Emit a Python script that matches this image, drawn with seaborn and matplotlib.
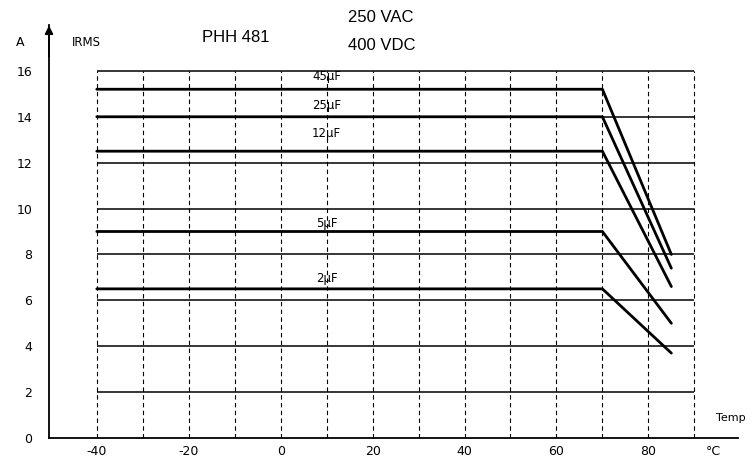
import matplotlib
matplotlib.use("Agg")
import matplotlib.pyplot as plt
import numpy as np
import pandas as pd
import seaborn as sns

# Derating of RMS current vs. temperature, PHH 481 series
temps = [-40, 70, 85]
capacitances = ["45µF", "25µF", "12µF", "5µF", "2µF"]
irms = {
    "45µF": [15.2, 15.2, 8.0],
    "25µF": [14.0, 14.0, 7.4],
    "12µF": [12.5, 12.5, 6.6],
    "5µF": [9.0, 9.0, 5.0],
    "2µF": [6.5, 6.5, 3.7],
}
label_y = {"45µF": 15.75, "25µF": 14.5, "12µF": 13.25, "5µF": 9.35, "2µF": 6.95}
label_x = 10

x_ticks = [-40, -20, 0, 20, 40, 60, 80]
y_ticks = [0, 2, 4, 6, 8, 10, 12, 14, 16]
grid_temps = list(range(-40, 100, 10))
grid_currents = [2, 4, 6, 8, 10, 12, 14, 16]

rows = []
for cap in capacitances:
    for t, i in zip(temps, irms[cap]):
        rows.append({"temp": t, "irms": i, "cap": cap})
df = pd.DataFrame(rows)

sns.set_theme(style="white")
plt.rcParams["font.family"] = ["DejaVu Sans"]
plt.rcParams["text.color"] = "black"

W, H = 753, 461
fig = plt.figure(figsize=(W / 100, H / 100), dpi=100)
ax = fig.add_axes([49 / W, (H - 438) / H, 689 / W, 413 / H])
ax.set_xlim(-50.4, 99.5)
ax.set_ylim(0, 18)

# Grid box: horizontal rules and dashed verticals from -40 to 90 °C
for c in grid_currents:
    ax.plot([-40, 90], [c, c], color="black", lw=1.1, zorder=2, solid_capstyle="butt")
for t in grid_temps:
    ax.plot([t, t], [0, 16], color="black", lw=0.8, dashes=(4, 3), zorder=2)

sns.lineplot(data=df, x="temp", y="irms", hue="cap", hue_order=capacitances,
             palette=["black"] * len(capacitances), linewidth=2.0,
             legend=False, ax=ax, zorder=3)

for cap in capacitances:
    ax.text(label_x, label_y[cap], cap, ha="center", va="center",
            fontsize=8.5, color="black", zorder=4)

sns.despine(ax=ax, top=True, right=True)
for side in ("left", "bottom"):
    ax.spines[side].set_color("black")
    ax.spines[side].set_linewidth(1.3)

ax.set_xticks(x_ticks)
ax.set_xticklabels([str(v) for v in x_ticks])
ax.set_yticks(y_ticks)
ax.set_yticklabels([str(v) for v in y_ticks])
ax.tick_params(axis="x", length=0, pad=5, labelsize=9, colors="black")
ax.tick_params(axis="y", length=6, direction="inout", width=1.2, pad=9,
               labelsize=9, colors="black")
ax.set_xlabel("")
ax.set_ylabel("")

# Arrow head on the current axis
ax.annotate("", xy=(-50.4, 18.1), xytext=(-50.4, 16.5),
            arrowprops=dict(arrowstyle="-|>", color="black", lw=1.3,
                            mutation_scale=12),
            annotation_clip=False)


def ftext(px, py, s, **kw):
    fig.text(px / W, 1 - py / H, s, color="black", **kw)


ftext(20, 42, "A", ha="center", va="center", fontsize=9)
ftext(72, 42, "IRMS", ha="left", va="center", fontsize=8.5)
ftext(202, 37, "PHH 481", ha="left", va="center", fontsize=12,
      family=["Liberation Sans", "DejaVu Sans"])
ftext(348, 18, "250 VAC", ha="left", va="center", fontsize=12,
      family=["Liberation Sans", "DejaVu Sans"])
ftext(348, 45, "400 VDC", ha="left", va="center", fontsize=12,
      family=["Liberation Sans", "DejaVu Sans"])
ftext(716, 418, "Temp", ha="left", va="center", fontsize=8)
ftext(706, 451, "°C", ha="left", va="center", fontsize=9)

fig.savefig("out.png", dpi=100, facecolor="white")
